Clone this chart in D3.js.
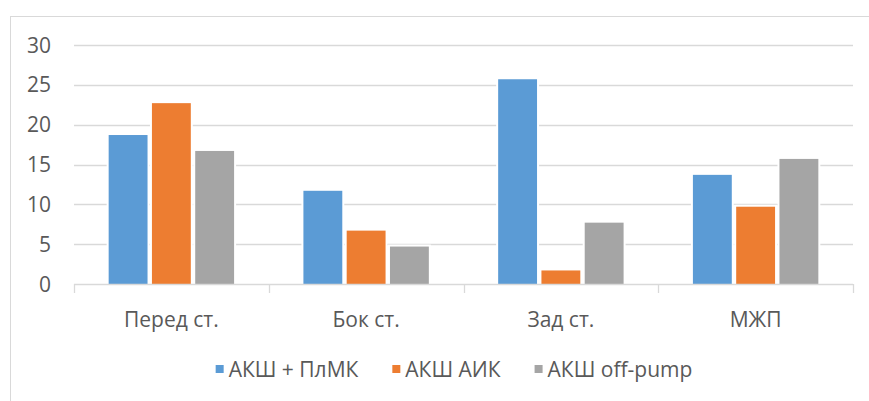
<!DOCTYPE html>
<html>
<head>
<meta charset="utf-8">
<script src="https://cdn.jsdelivr.net/npm/d3@7"></script>
<style>
  body { margin: 0; background: #fff; }
  text { font-family: "Open Sans", sans-serif; fill: #595959; }
</style>
</head>
<body>
<div id="chart"></div>
<script>
"use strict";

var categories = ["Перед ст.", "Бок ст.", "Зад ст.", "МЖП"];
var seriesNames = ["АКШ + ПлМК", "АКШ АИК", "АКШ off-pump"];
var seriesA = [18.7, 11.7, 25.7, 13.7];
var seriesB = [22.7, 6.7, 1.7, 9.7];
var seriesC = [16.7, 4.7, 7.7, 15.7];
var yTicks = [0, 5, 10, 15, 20, 25, 30];
var colors = ["#5B9BD5", "#ED7D31", "#A5A5A5"];

var specs = {
    w: 869,
    h: 401,
    left: 74,
    right: 853,
    top: 45,
    bottom: 284,
    font: 21
};

var svg = d3.select("#chart").append("svg")
    .attr("width", specs.w)
    .attr("height", specs.h);

// chart frame (runs off the right and bottom edges)
svg.append("rect")
    .attr("x", 10.5)
    .attr("y", 16.5)
    .attr("width", 1000)
    .attr("height", 1000)
    .attr("fill", "none")
    .attr("stroke", "#D9D9D9")
    .attr("stroke-width", 1);

var x0 = d3.scaleBand()
    .domain(categories)
    .range([specs.left, specs.right]);

var x1 = d3.scaleBand()
    .domain(seriesNames)
    .range([0, x0.bandwidth()])
    .paddingOuter(0.75)
    .paddingInner(0);

var y = d3.scaleLinear()
    .domain([0, 30])
    .range([specs.bottom, specs.top]);

// gridlines
svg.append("g")
    .selectAll("line")
    .data(yTicks.filter(function(d) { return d > 0; }))
    .enter()
    .append("line")
    .attr("x1", specs.left)
    .attr("x2", specs.right)
    .attr("y1", function(d) { return Math.round(y(d)) + 0.5; })
    .attr("y2", function(d) { return Math.round(y(d)) + 0.5; })
    .attr("stroke", "#D9D9D9")
    .attr("stroke-width", 1.3);

// y labels
svg.append("g")
    .selectAll("text")
    .data(yTicks)
    .enter()
    .append("text")
    .attr("x", 51)
    .attr("y", function(d) { return y(d); })
    .attr("dy", "0.36em")
    .attr("text-anchor", "end")
    .style("font-size", specs.font + "px")
    .text(function(d) { return d; });

// bars
var table = categories.map(function(c, i) {
    return { cat: c, values: [seriesA[i], seriesB[i], seriesC[i]] };
});

var groups = svg.append("g")
    .selectAll("g")
    .data(table)
    .enter()
    .append("g")
    .attr("transform", function(d) { return "translate(" + x0(d.cat) + ",0)"; });

// white outline painted under the fill, so it cuts the gridlines next to each bar
groups.selectAll("rect")
    .data(function(d) {
        return d.values.map(function(v, j) { return { name: seriesNames[j], value: v, idx: j }; });
    })
    .enter()
    .append("rect")
    .attr("x", function(d) { return x1(d.name) + 2.2; })
    .attr("width", x1.bandwidth() - 4.4)
    .attr("y", function(d) { return y(d.value); })
    .attr("height", function(d) { return specs.bottom - y(d.value); })
    .attr("fill", function(d) { return colors[d.idx]; })
    .attr("stroke", "#fff")
    .attr("stroke-width", 4)
    .attr("paint-order", "stroke");

// x axis line with ticks between categories
var axis = svg.append("g");
axis.append("line")
    .attr("x1", specs.left)
    .attr("x2", specs.right)
    .attr("y1", specs.bottom + 0.5)
    .attr("y2", specs.bottom + 0.5)
    .attr("stroke", "#D9D9D9")
    .attr("stroke-width", 1.3);

var boundaries = categories.map(function(c) { return x0(c); }).concat([specs.right]);
axis.selectAll(".tick")
    .data(boundaries)
    .enter()
    .append("line")
    .attr("class", "tick")
    .attr("x1", function(d) { return Math.round(d) + 0.5; })
    .attr("x2", function(d) { return Math.round(d) + 0.5; })
    .attr("y1", specs.bottom)
    .attr("y2", specs.bottom + 9)
    .attr("stroke", "#D9D9D9")
    .attr("stroke-width", 1.3);

axis.selectAll(".cat")
    .data(categories)
    .enter()
    .append("text")
    .attr("class", "cat")
    .attr("x", function(d) { return x0(d) + x0.bandwidth() / 2; })
    .attr("y", 327)
    .attr("text-anchor", "middle")
    .style("font-size", specs.font + "px")
    .text(function(d) { return d; });

// legend
var legend = svg.append("g");
var items = legend.selectAll("g")
    .data(seriesNames)
    .enter()
    .append("g");

items.append("rect")
    .attr("width", 8)
    .attr("height", 8)
    .attr("y", 365)
    .attr("fill", function(d, i) { return colors[i]; });

items.append("text")
    .attr("x", 13)
    .attr("y", 377)
    .style("font-size", specs.font + "px")
    .text(function(d) { return d; });

var widths = [];
items.each(function() {
    widths.push(13 + d3.select(this).select("text").node().getComputedTextLength());
});
var spacing = 34;
var total = d3.sum(widths) + spacing * (widths.length - 1);
var cursor = 454 - total / 2;
items.attr("transform", function(d, i) {
    var t = "translate(" + cursor + ",0)";
    cursor += widths[i] + spacing;
    return t;
});
</script>
</body>
</html>
